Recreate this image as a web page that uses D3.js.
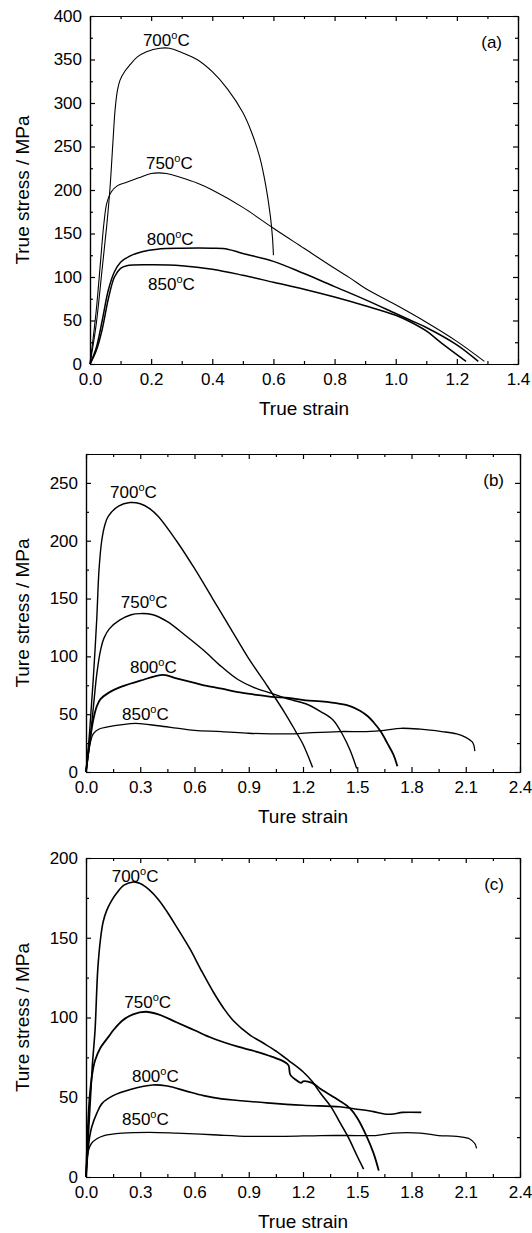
<!DOCTYPE html>
<html>
<head>
<meta charset="utf-8">
<script src="https://cdn.jsdelivr.net/npm/d3@7/dist/d3.min.js"></script>
<style>
  body { margin: 0; background: #fff; }
  text { font-family: "Liberation Sans", Arial, sans-serif; fill: #000; }
  .tick line, .domain { stroke: #000; stroke-width: 1.2; }
  .curve { fill: none; stroke: #000; stroke-width: 1.3; }
</style>
</head>
<body>
<div id="chart"></div>
<script>
// ---- data: [strain, stress] ----
// panel (a)
var a700 = [[0,0],[0.02,45],[0.04,110],[0.055,160],[0.065,200],[0.075,255],[0.082,292],[0.09,315],[0.098,326],[0.115,337],[0.131,344],[0.155,353],[0.185,359],[0.229,363],[0.26,363],[0.3,358],[0.35,350],[0.4,336],[0.45,316],[0.5,289],[0.53,265],[0.555,238],[0.575,205],[0.59,170],[0.597,145],[0.6,125]];
var a750 = [[0,0],[0.02,60],[0.035,120],[0.045,160],[0.055,185],[0.07,198],[0.09,205],[0.12,209],[0.16,214],[0.2,219],[0.25,219],[0.3,214],[0.35,208],[0.4,200],[0.5,180],[0.6,156],[0.7,133],[0.8,110],[0.85,99],[0.9,87],[1.0,68],[1.1,48],[1.2,26],[1.29,3]];
var a800 = [[0,0],[0.02,18],[0.04,50],[0.06,85],[0.08,106],[0.1,117],[0.13,124],[0.17,129],[0.22,132],[0.3,133],[0.4,133],[0.45,132],[0.5,127],[0.6,118],[0.7,104],[0.8,89],[0.9,74],[1.0,58],[1.05,50],[1.1,42],[1.2,22],[1.27,3]];
var a850 = [[0,0],[0.02,15],[0.04,40],[0.06,75],[0.08,100],[0.1,110],[0.12,113],[0.2,114],[0.3,113],[0.4,109],[0.5,102],[0.6,94],[0.7,86],[0.8,77],[0.9,67],[1.0,56],[1.05,48],[1.1,38],[1.15,24],[1.23,3]];
// panel (b)
var b700 = [[0,0],[0.02,35],[0.04,80],[0.059,131],[0.072,175],[0.087,200],[0.105,214],[0.123,221],[0.18,230],[0.243,233],[0.3,232],[0.35,228],[0.4,221],[0.5,200],[0.6,176],[0.7,150],[0.8,124],[0.9,98],[1.0,75],[1.1,51],[1.16,35],[1.2,24],[1.253,4]];
var b750 = [[0,0],[0.02,25],[0.04,55],[0.06,85],[0.08,105],[0.1,116],[0.13,124],[0.188,131.5],[0.25,136],[0.3,137],[0.37,136],[0.45,130],[0.55,118],[0.652,105],[0.75,91],[0.84,80],[0.93,73],[1.027,68],[1.12,63],[1.215,59],[1.3,52],[1.366,45],[1.42,32],[1.46,19],[1.497,3]];
var b800 = [[0,0],[0.02,25],[0.04,45],[0.06,57],[0.08,63],[0.12,68],[0.2,74],[0.3,79],[0.426,84],[0.5,81],[0.6,77],[0.652,75],[0.75,72],[0.84,69],[0.93,67],[1.027,65],[1.12,64],[1.215,62],[1.3,61],[1.403,59],[1.46,57],[1.515,53],[1.56,48],[1.59,43],[1.63,35],[1.666,25],[1.7,15],[1.722,5]];
var b850 = [[0,0],[0.01,12],[0.025,26],[0.04,33],[0.07,37],[0.12,39],[0.2,41],[0.276,42],[0.4,40],[0.5,38],[0.6,36],[0.75,35],[0.9,33.5],[1.027,33],[1.15,33],[1.25,34],[1.403,35],[1.55,35],[1.65,36],[1.741,37.8],[1.85,37],[1.967,35],[2.05,33],[2.1,30],[2.136,26],[2.145,23],[2.15,18]];
// panel (c)
var c700 = [[0,0],[0.02,40],[0.035,70],[0.05,92],[0.065,130],[0.081,150],[0.095,160],[0.114,167],[0.14,173],[0.17,178],[0.21,183],[0.262,185],[0.3,184],[0.35,180],[0.4,174],[0.45,166],[0.5,157],[0.575,143],[0.64,129],[0.704,116],[0.76,106],[0.815,98],[0.907,89],[0.98,84],[1.05,79],[1.121,73],[1.2,66],[1.25,60],[1.3,52],[1.355,44],[1.4,35],[1.45,25],[1.5,13],[1.535,5]];
var c750 = [[0,0],[0.01,30],[0.02,50],[0.035,65],[0.05,73],[0.08,81],[0.125,88],[0.151,92],[0.2,98],[0.26,102],[0.33,103.6],[0.4,102],[0.5,97],[0.6,92],[0.7,87],[0.84,81.7],[0.93,79],[1.027,75.5],[1.1,72],[1.12,70],[1.13,64],[1.16,61],[1.19,59],[1.2,60],[1.25,59],[1.3,55],[1.4,48],[1.46,43],[1.5,37],[1.55,26],[1.59,15],[1.619,4]];
var c800 = [[0,0],[0.01,15],[0.02,25],[0.032,31.5],[0.06,40],[0.088,46],[0.15,51],[0.25,55],[0.37,57.7],[0.45,57],[0.55,54],[0.65,51],[0.75,49],[0.84,48],[1.0,46.5],[1.2,45],[1.403,44],[1.5,42.5],[1.59,41],[1.65,39.5],[1.7,39.5],[1.75,40.5],[1.854,40.5]];
var c850 = [[0,0],[0.005,10],[0.015,17],[0.03,21],[0.06,24],[0.1,26],[0.2,27.5],[0.35,28],[0.5,27.5],[0.7,26.5],[0.9,25.5],[1.1,25.5],[1.3,26],[1.5,26],[1.6,26],[1.7,27.5],[1.85,27.5],[1.95,26],[2.05,25.5],[2.12,24],[2.15,21],[2.16,18]];

var temps = ["700", "750", "800", "850"];

// ---- tick labels ----
var aXTicks = [0, 0.2, 0.4, 0.6, 0.8, 1.0, 1.2, 1.4];
var aYTicks = [0, 50, 100, 150, 200, 250, 300, 350, 400];
var bXTicks = [0, 0.3, 0.6, 0.9, 1.2, 1.5, 1.8, 2.1, 2.4];
var bYTicks = [0, 50, 100, 150, 200, 250];
var cXTicks = [0, 0.3, 0.6, 0.9, 1.2, 1.5, 1.8, 2.1, 2.4];
var cYTicks = [0, 50, 100, 150, 200];

// ---- panel layout ----
var panels = [
    { tag: "(a)", left: 90, top: 16, right: 518, bottom: 364, xMax: 1.4, yMax: 400,
      xTicks: aXTicks, yTicks: aYTicks, xTitle: "True strain", yTitle: "True stress / MPa",
      series: [a700, a750, a800, a850], widths: [1.1, 1.1, 1.5, 1.5],
      labelAt: [[0.173, 366], [0.183, 224], [0.186, 137], [0.19, 85]] },
    { tag: "(b)", left: 86, top: 454, right: 520, bottom: 772, xMax: 2.4, yMax: 275,
      xTicks: bXTicks, yTicks: bYTicks, xTitle: "Ture strain", yTitle: "Ture stress / MPa",
      series: [b700, b750, b800, b850], widths: [1.4, 1.4, 1.8, 1.3],
      labelAt: [[0.133, 236.7], [0.192, 141.6], [0.243, 85.6], [0.199, 45]] },
    { tag: "(c)", left: 86, top: 858, right: 520, bottom: 1177, xMax: 2.4, yMax: 200,
      xTicks: cXTicks, yTicks: cYTicks, xTitle: "True strain", yTitle: "Ture stress / MPa",
      series: [c700, c750, c800, c850], widths: [1.6, 1.8, 1.6, 1.3],
      labelAt: [[0.142, 185], [0.212, 106], [0.254, 59.6], [0.199, 32.6]] }
];

var svg = d3.select("#chart").append("svg")
    .attr("width", 532)
    .attr("height", 1233);

function midpoints(t) {
    var m = [];
    for (var i = 0; i < t.length - 1; i++) m.push((t[i] + t[i + 1]) / 2);
    return m;
}

function drawPanel(p) {
    var width = p.right - p.left;
    var height = p.bottom - p.top;
    var g = svg.append("g").attr("transform", `translate(${p.left},${p.top})`);

    var x = d3.scaleLinear().domain([0, p.xMax]).range([0, width]);
    var y = d3.scaleLinear().domain([0, p.yMax]).range([height, 0]);

    var fx = d3.format(".1f");
    var xMinor = midpoints(p.xTicks);
    var yMinor = midpoints(p.yTicks);
    if (p.yMax > p.yTicks[p.yTicks.length - 1]) yMinor.push(p.yTicks[p.yTicks.length - 1] + 25);

    // minor ticks, all four sides
    g.append("g").attr("transform", `translate(0,${height})`)
        .call(d3.axisBottom(x).tickValues(xMinor).tickSizeInner(-3).tickSizeOuter(0).tickFormat(""));
    g.append("g")
        .call(d3.axisTop(x).tickValues(xMinor).tickSizeInner(-3).tickSizeOuter(0).tickFormat(""));
    g.append("g")
        .call(d3.axisLeft(y).tickValues(yMinor).tickSizeInner(-3).tickSizeOuter(0).tickFormat(""));
    g.append("g").attr("transform", `translate(${width},0)`)
        .call(d3.axisRight(y).tickValues(yMinor).tickSizeInner(-3).tickSizeOuter(0).tickFormat(""));

    // major ticks
    g.append("g").attr("transform", `translate(0,${height})`)
        .call(d3.axisBottom(x).tickValues(p.xTicks).tickSizeInner(-5).tickSizeOuter(0)
            .tickPadding(9).tickFormat(fx));
    g.append("g")
        .call(d3.axisTop(x).tickValues(p.xTicks).tickSizeInner(-5).tickSizeOuter(0).tickFormat(""));
    g.append("g")
        .call(d3.axisLeft(y).tickValues(p.yTicks).tickSizeInner(-5).tickSizeOuter(0)
            .tickPadding(8).tickFormat(d3.format("d")));
    g.append("g").attr("transform", `translate(${width},0)`)
        .call(d3.axisRight(y).tickValues(p.yTicks).tickSizeInner(-5).tickSizeOuter(0).tickFormat(""));

    g.selectAll(".tick text").style("font-size", "17px");
    svg.selectAll("g[font-family]").attr("font-family", null).attr("font-size", null);

    // curves
    var line = d3.line()
        .x(d => x(d[0]))
        .y(d => y(d[1]))
        .curve(d3.curveCatmullRom.alpha(0.5));
    g.selectAll(".curve")
        .data(p.series)
        .join("path")
        .attr("class", "curve")
        .style("stroke-width", (d, i) => p.widths[i])
        .attr("d", line);

    // temperature labels
    var lab = g.selectAll(".temp")
        .data(p.labelAt)
        .join("text")
        .attr("class", "temp")
        .attr("x", d => x(d[0]))
        .attr("y", d => y(d[1]))
        .style("font-size", "17px");
    lab.append("tspan").text((d, i) => temps[i]);
    lab.append("tspan").attr("dy", -7).style("font-size", "11px").text("o");
    lab.append("tspan").attr("dy", 7).text("C");

    // panel tag
    g.append("text")
        .attr("x", width - 16)
        .attr("y", 32)
        .attr("text-anchor", "end")
        .style("font-size", "17px")
        .text(p.tag);

    // axis titles
    g.append("text")
        .attr("x", width / 2)
        .attr("y", height + 51)
        .attr("text-anchor", "middle")
        .style("font-size", "19px")
        .text(p.xTitle);
    g.append("text")
        .attr("transform", `translate(${29 - p.left},${height / 2}) rotate(-90)`)
        .attr("text-anchor", "middle")
        .style("font-size", "19px")
        .text(p.yTitle);
}

panels.forEach(drawPanel);
</script>
</body>
</html>
